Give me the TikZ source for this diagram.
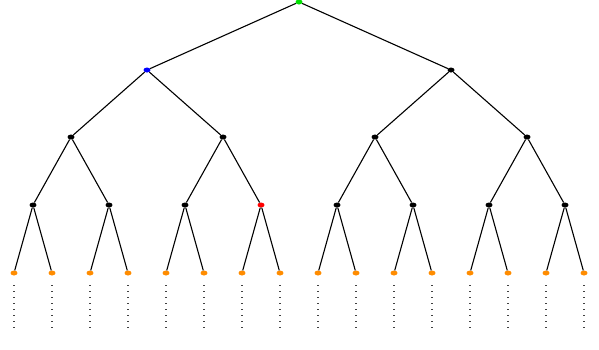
\documentclass[tikz,border=0pt]{standalone}
\usepackage{tikz}
\usetikzlibrary{shapes.geometric}
\definecolor{rootgreen}{HTML}{00E000}
\definecolor{leaforange}{HTML}{FF8C00}
\tikzset{
  treedot/.style={
    ellipse, fill=#1, draw=none, inner sep=0pt,
    minimum width=7pt, minimum height=5pt
  },
  treedot/.default=black,
  treeedge/.style={line width=1.1pt, color=black},
  tailline/.style={line width=1.3pt, dash pattern=on 1.3pt off 4.7pt, color=black!75},
}
\begin{document}
\begin{tikzpicture}[x=1pt, y=-1pt]
  \useasboundingbox (0,0) rectangle (599,349);

  % root and first level
  \node[treedot=rootgreen] (r) at (299,2) {};
  \node[treedot=blue] (a0) at (147,70) {};
  \node[treedot] (a1) at (451,70) {};

  % second level
  \foreach \i in {0,...,3}
    \node[treedot] (b\i) at ({71+152*\i},137) {};

  % third level
  \foreach \i/\c in {0/black,1/black,2/black,3/red,4/black,5/black,6/black,7/black}
    \node[treedot=\c] (c\i) at ({33+76*\i},205) {};

  % leaves
  \foreach \i in {0,...,15}
    \node[treedot=leaforange] (d\i) at ({14+38*\i},273) {};

  % edges
  \draw[treeedge] (r) -- (a0);
  \draw[treeedge] (r) -- (a1);
  \foreach \i in {0,...,3} {
    \pgfmathtruncatemacro{\p}{\i/2}
    \draw[treeedge] (a\p) -- (b\i);
  }
  \foreach \i in {0,...,7} {
    \pgfmathtruncatemacro{\p}{\i/2}
    \draw[treeedge] (b\p) -- (c\i);
  }
  \foreach \i in {0,...,15} {
    \pgfmathtruncatemacro{\p}{\i/2}
    \draw[treeedge] (c\p) -- (d\i);
  }

  % dotted tails under the leaves
  \foreach \i in {0,...,15} {
    \coordinate (e\i) at ({14+38*\i},328);
    \draw[tailline] ([yshift=-12pt]d\i.center) -- (e\i);
  }
\end{tikzpicture}
\end{document}
